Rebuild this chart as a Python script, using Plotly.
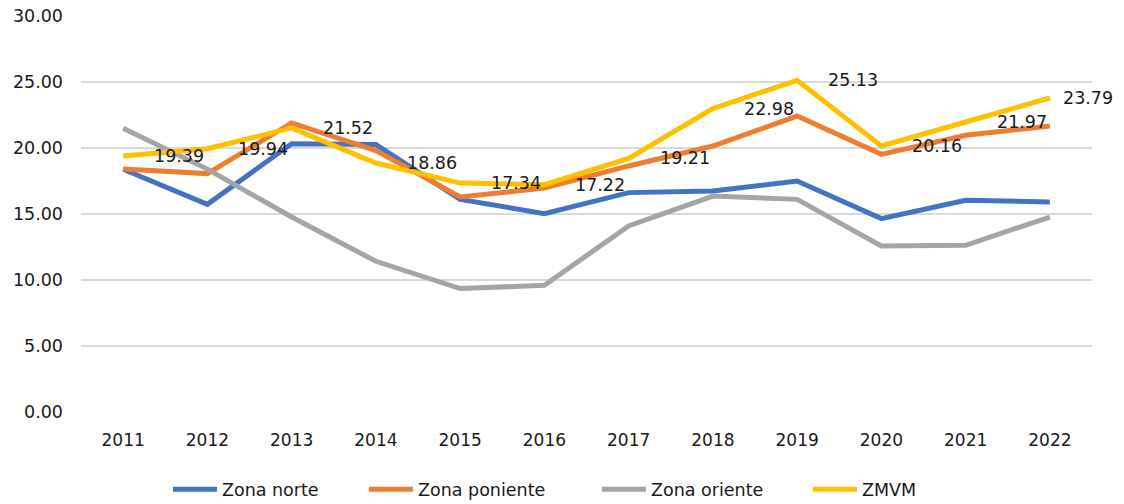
import plotly.graph_objects as go

years = [2011, 2012, 2013, 2014, 2015, 2016, 2017, 2018, 2019, 2020, 2021, 2022]
zona_norte = [18.39, 15.73, 20.33, 20.26, 16.11, 15.03, 16.62, 16.74, 17.50, 14.65, 16.04, 15.91]
zona_poniente = [18.40, 18.06, 21.90, 19.80, 16.29, 16.97, 18.64, 20.15, 22.42, 19.52, 20.96, 21.67]
zona_oriente = [21.50, 18.40, 14.77, 11.42, 9.35, 9.60, 14.09, 16.36, 16.11, 12.58, 12.63, 14.77]
zmvm = [19.39, 19.94, 21.52, 18.86, 17.34, 17.22, 19.21, 22.98, 25.13, 20.16, 21.97, 23.79]
y_ticks = [0, 5, 10, 15, 20, 25, 30]

FONT = "DejaVu Sans"
TXT = "#1a1a1a"
series = [
    ("Zona norte", zona_norte, "#4472C4", 137),
    ("Zona poniente", zona_poniente, "#ED7D31", 174),
    ("Zona oriente", zona_oriente, "#A5A5A5", 152),
    ("ZMVM", zmvm, "#FFC000", 70),
]

fig = go.Figure()
for name, vals, color, lw in series:
    fig.add_trace(go.Scatter(
        x=years, y=vals, name=name, mode="lines",
        line=dict(color=color, width=5),
        legendwidth=lw,
    ))

label_shift = [29] * (len(years) - 1) + [11]
for yr, v, sh in zip(years, zmvm, label_shift):
    fig.add_annotation(
        x=yr, y=v, text=f"{v:.2f}", showarrow=False,
        xanchor="left", yanchor="middle", xshift=sh,
        font=dict(family=FONT, size=17.5, color=TXT),
    )

fig.update_layout(
    width=1124, height=504,
    margin=dict(l=81, r=32, t=16, b=92, autoexpand=False),
    paper_bgcolor="white", plot_bgcolor="white",
    font=dict(family=FONT, size=17.5, color=TXT),
    showlegend=True,
    legend=dict(
        orientation="h", x=0.086, xanchor="left", y=-0.15, yanchor="top",
        font=dict(family=FONT, size=17.5, color=TXT),
        itemwidth=44,
    ),
    xaxis=dict(
        range=[2010.5, 2022.5], tickvals=years, ticktext=[str(y) for y in years],
        showgrid=False, showline=False, zeroline=False, automargin=False,
        ticks="", ticklabelstandoff=16, tickfont=dict(family=FONT, size=17),
    ),
    yaxis=dict(
        range=[0, 30], tickvals=y_ticks, tickformat=".2f",
        showgrid=True, gridcolor="#D9D9D9", gridwidth=1.5, automargin=False,
        zeroline=False, showline=False, ticks="", ticklabelstandoff=17,
        tickfont=dict(family=FONT, size=17.5),
    ),
)

fig.write_html(
    "out.html",
    config={"displayModeBar": False},
    post_script="document.body.style.margin='0';",
)
